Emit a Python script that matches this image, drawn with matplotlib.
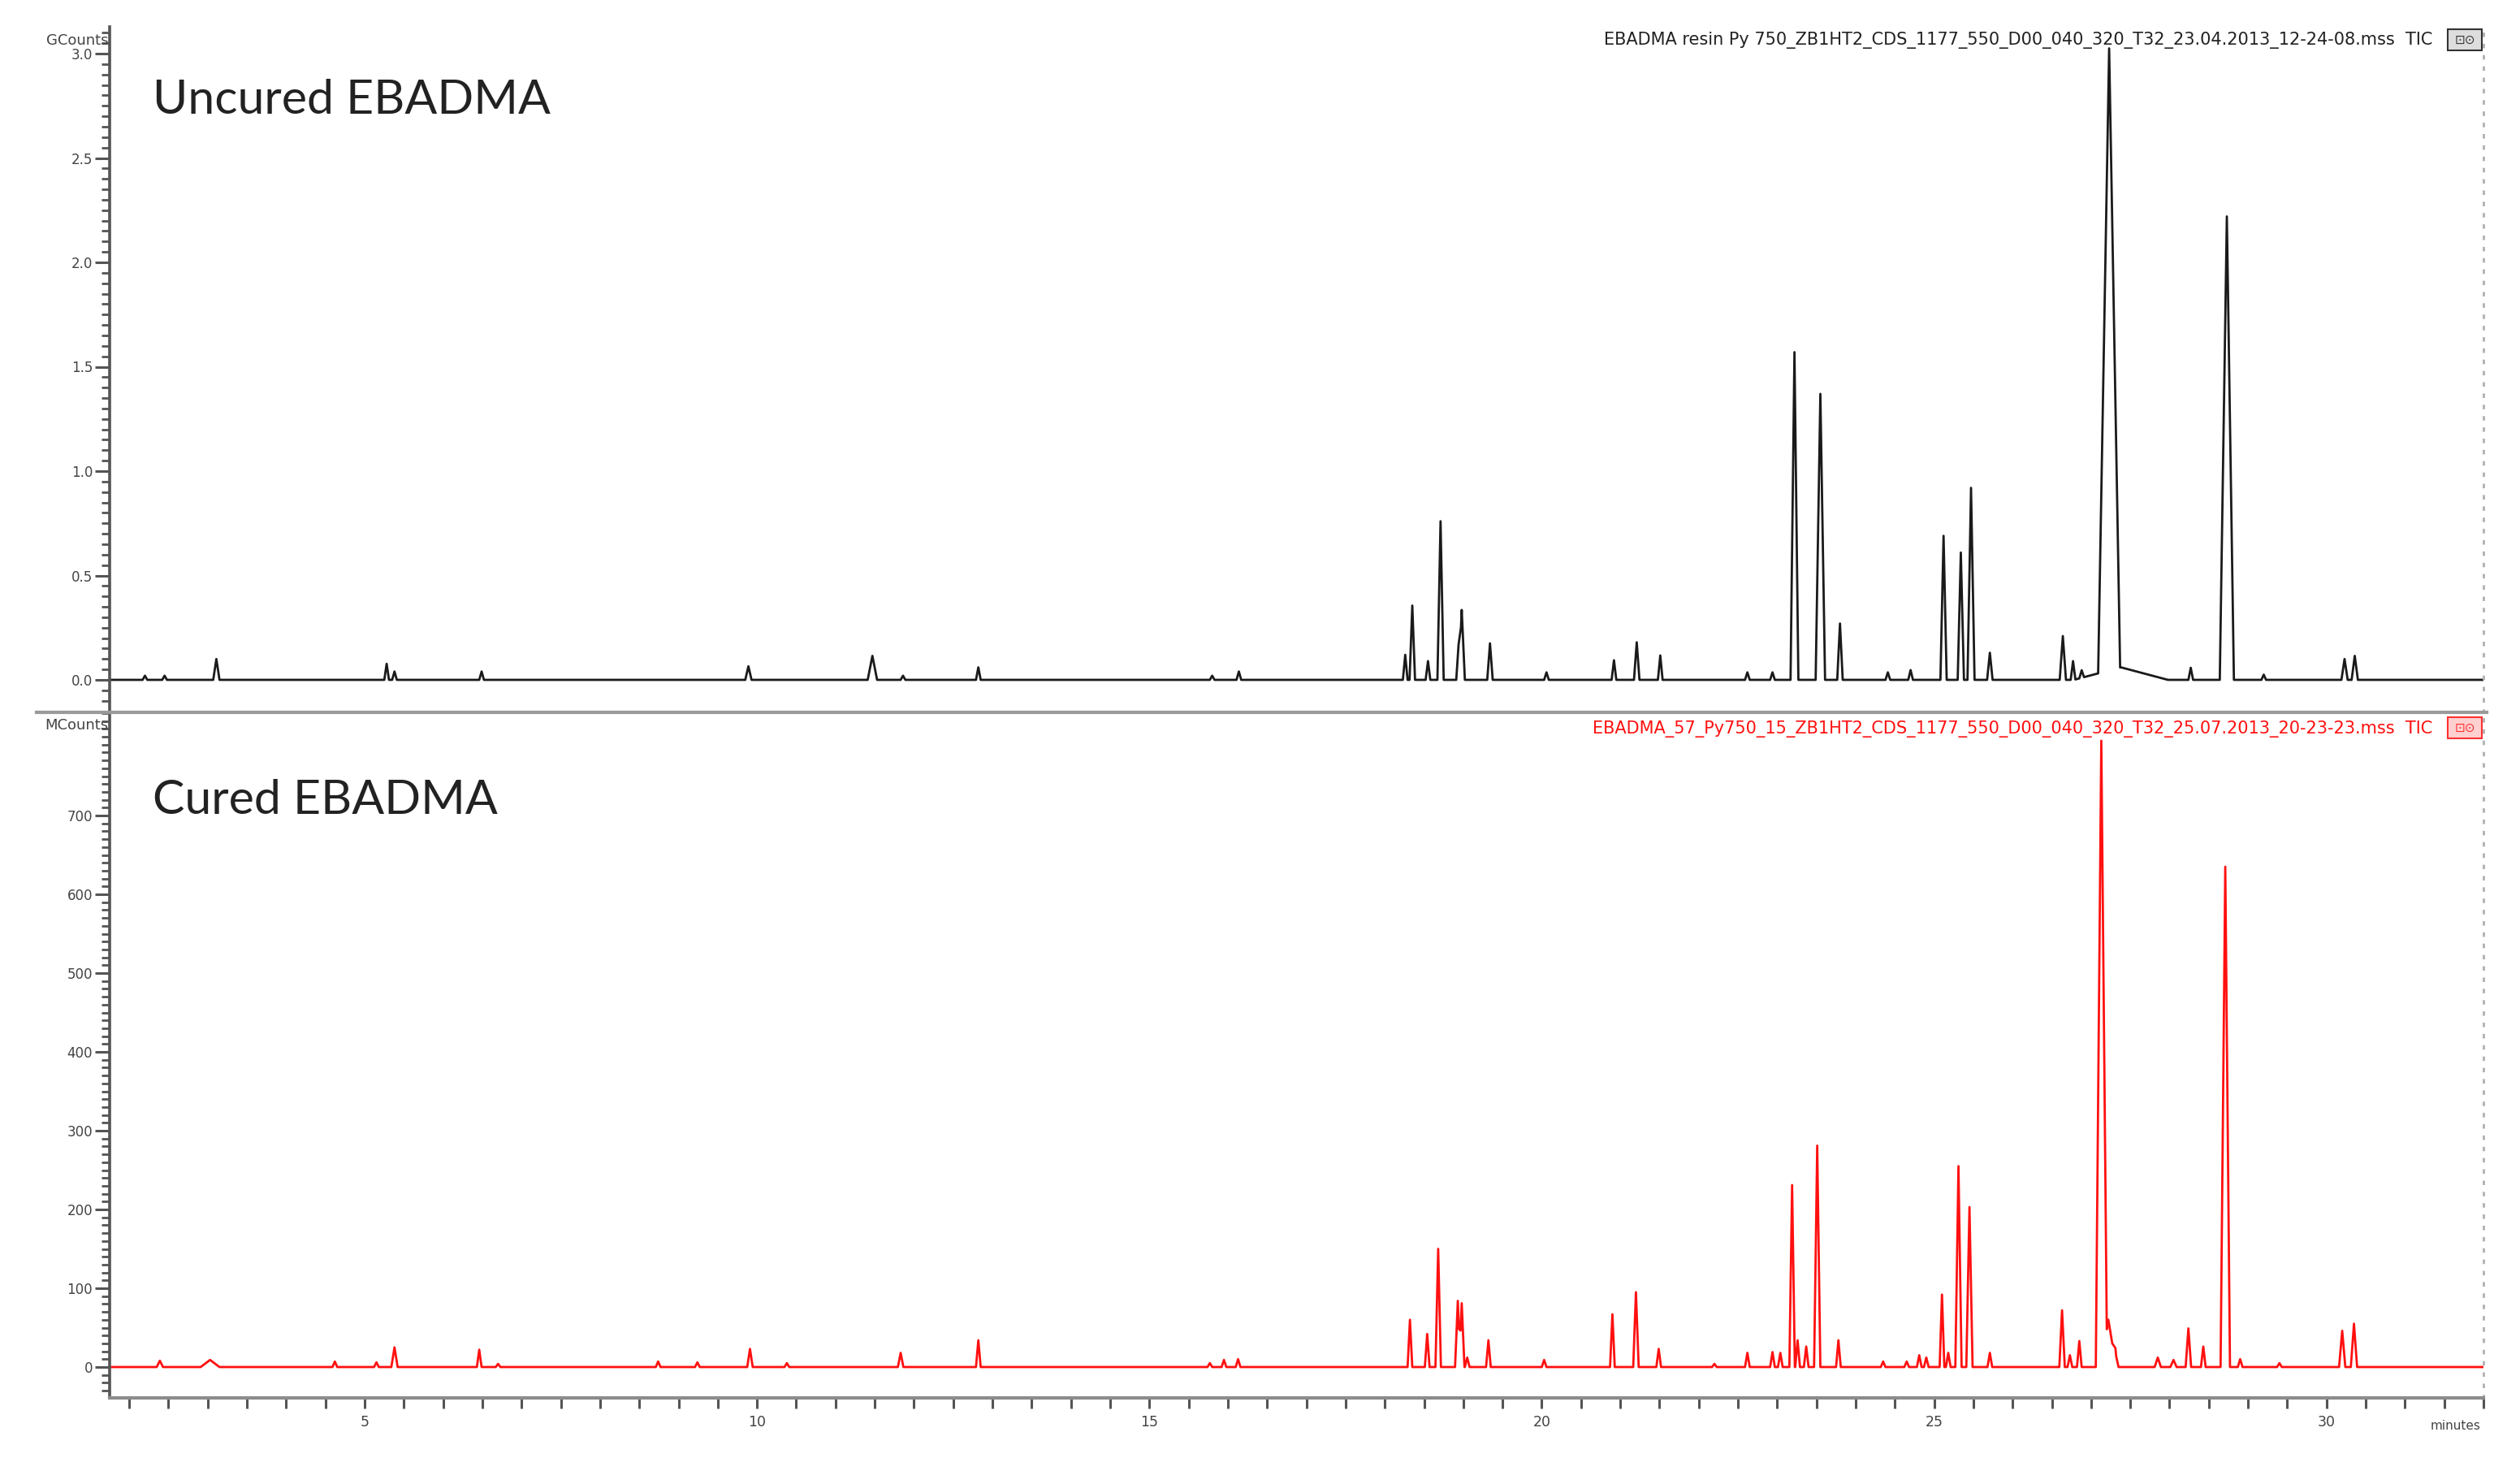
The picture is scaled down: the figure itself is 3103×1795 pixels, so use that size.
import numpy as np
import matplotlib.pyplot as plt
from matplotlib.ticker import MultipleLocator, FuncFormatter
from matplotlib.lines import Line2D
from matplotlib.patches import Rectangle

W, H = 3103, 1795
X_MIN, X_MAX = 1.75, 32.0

# uncured resin: retention time (min), height (GCounts), half base width (min)
uncured_times = [2.2, 2.45, 3.11, 5.28, 5.38, 6.49, 9.89, 11.47, 11.86, 12.82, 15.8, 16.14,
                 18.26, 18.35, 18.55, 18.71, 18.94, 18.98, 19.34, 20.06, 20.92, 21.21, 21.51,
                 22.62, 22.94, 23.22, 23.55, 23.80, 24.41, 24.70, 25.12, 25.34, 25.47, 25.71,
                 26.64, 26.77, 26.88, 27.23, 27.38, 28.27, 28.73, 29.2, 30.23, 30.36]
uncured_heights = [0.02, 0.02, 0.10, 0.077, 0.04, 0.04, 0.065, 0.115, 0.02, 0.06, 0.02, 0.04,
                   0.12, 0.356, 0.09, 0.76, 0.17, 0.335, 0.175, 0.036, 0.094, 0.18, 0.117,
                   0.036, 0.036, 1.57, 1.37, 0.27, 0.036, 0.047, 0.69, 0.61, 0.92, 0.13,
                   0.21, 0.09, 0.036, 2.98, 0.06, 0.058, 2.22, 0.025, 0.10, 0.115]
uncured_widths = [0.03, 0.03, 0.04, 0.03, 0.03, 0.03, 0.04, 0.06, 0.03, 0.03, 0.03, 0.03,
                  0.03, 0.035, 0.03, 0.04, 0.03, 0.04, 0.035, 0.03, 0.03, 0.035, 0.03,
                  0.03, 0.03, 0.05, 0.06, 0.035, 0.03, 0.03, 0.04, 0.04, 0.045, 0.035,
                  0.04, 0.03, 0.03, 0.14, 0.6, 0.03, 0.09, 0.03, 0.04, 0.04]

# cured resin: retention time (min), height (MCounts), half base width (min)
cured_times = [2.39, 3.03, 4.62, 5.15, 5.38, 6.46, 6.7, 8.74, 9.24, 9.91, 10.38, 11.83, 12.82,
               15.77, 15.95, 16.13, 18.32, 18.54, 18.68, 18.93, 18.98, 19.05, 19.32, 20.03,
               20.9, 21.2, 21.49, 22.2, 22.62, 22.94, 23.04, 23.19, 23.26, 23.37, 23.51, 23.78,
               24.35, 24.65, 24.81, 24.9, 25.1, 25.18, 25.31, 25.45, 25.71, 26.63, 26.73,
               26.85, 27.13, 27.22, 27.31, 27.85, 28.05, 28.24, 28.43, 28.71, 28.9, 29.4,
               30.2, 30.35]
cured_heights = [8, 9, 7, 6, 25, 22, 4, 7, 6, 23, 5, 18, 34,
                 5, 9, 10, 60, 42, 150, 84, 81, 12, 34, 9,
                 67, 95, 23, 4, 18, 19, 18, 231, 34, 26, 281, 34,
                 7, 7, 15, 12, 92, 18, 255, 203, 18, 72, 15,
                 33, 789, 60, 18, 12, 9, 49, 26, 635, 10, 5,
                 46, 55]
cured_widths = [0.04, 0.12, 0.03, 0.03, 0.04, 0.03, 0.03, 0.03, 0.03, 0.035, 0.03, 0.035, 0.03,
                0.03, 0.03, 0.03, 0.03, 0.03, 0.035, 0.035, 0.035, 0.03, 0.03, 0.03,
                0.03, 0.035, 0.03, 0.03, 0.03, 0.03, 0.03, 0.035, 0.03, 0.03, 0.04, 0.03,
                0.03, 0.03, 0.03, 0.03, 0.03, 0.03, 0.04, 0.04, 0.03, 0.035, 0.03,
                0.03, 0.07, 0.1, 0.04, 0.04, 0.04, 0.035, 0.03, 0.06, 0.03, 0.03,
                0.04, 0.04]

uncured_ticks = [0.0, 0.5, 1.0, 1.5, 2.0, 2.5, 3.0]
cured_ticks = [0, 100, 200, 300, 400, 500, 600, 700]

uncured_file = "EBADMA resin Py 750_ZB1HT2_CDS_1177_550_D00_040_320_T32_23.04.2013_12-24-08.mss  TIC"
cured_file = "EBADMA_57_Py750_15_ZB1HT2_CDS_1177_550_D00_040_320_T32_25.07.2013_20-23-23.mss  TIC"


def build_trace(times, heights, widths):
    xs = [X_MIN, X_MAX]
    for t, w in zip(times, widths):
        xs += [t - w, t, t + w]
    xs = np.unique(xs)
    ys = np.zeros_like(xs)
    for t, h, w in zip(times, heights, widths):
        ys += np.interp(xs, [t - w, t, t + w], [0, h, 0], left=0, right=0)
    return xs, ys


def px_axes(fig, left, top, right, bottom):
    return fig.add_axes([left / W, 1 - bottom / H, (right - left) / W, (bottom - top) / H])


def style_axes(ax):
    for side in ['top', 'bottom']:
        ax.spines[side].set_visible(False)
    ax.spines['left'].set_color('#555555')
    ax.spines['left'].set_linewidth(2.6)
    ax.spines['right'].set_color('#b0b0b0')
    ax.spines['right'].set_linewidth(2.0)
    ax.spines['right'].set_linestyle((0, (1, 4)))
    ax.tick_params(axis='y', which='major', direction='out', length=13, width=2.2,
                   color='#555555', labelsize=12, labelcolor='#444444', pad=2)
    ax.tick_params(axis='y', which='minor', direction='out', length=7, width=2.0,
                   color='#555555')
    ax.set_xlim(X_MIN, X_MAX)


fig = plt.figure(figsize=(W / 100, H / 100), dpi=100)

# top panel: uncured
ax1 = px_axes(fig, 135, 33, 3058, 877)
style_axes(ax1)
x1, y1 = build_trace(uncured_times, uncured_heights, uncured_widths)
ax1.plot(x1, y1, color='#1a1a1a', lw=2.0)
ax1.set_ylim((837 - 877) / 257, (837 - 33) / 257)
ax1.set_yticks(uncured_ticks)
ax1.set_yticklabels([f"{v:.1f}" for v in uncured_ticks])
ax1.yaxis.set_minor_locator(MultipleLocator(0.05))
ax1.set_xticks([])

# bottom panel: cured
ax2 = px_axes(fig, 135, 877, 3058, 1721)
style_axes(ax2)
ax2.spines['bottom'].set_visible(True)
ax2.spines['bottom'].set_color('#8c8c8c')
ax2.spines['bottom'].set_linewidth(3.0)
x2, y2 = build_trace(cured_times, cured_heights, cured_widths)
ax2.plot(x2, y2, color='#ff1010', lw=2.0)
ax2.set_ylim((1683 - 1721) / 0.97, (1683 - 877) / 0.97)
ax2.set_yticks(cured_ticks)
ax2.set_yticklabels([str(v) for v in cured_ticks])
ax2.yaxis.set_minor_locator(MultipleLocator(10))
ax2.xaxis.set_major_locator(MultipleLocator(0.5))
ax2.xaxis.set_major_formatter(FuncFormatter(lambda v, p: f"{v:.0f}" if abs(v % 5) < 1e-6 else ""))
ax2.tick_params(axis='x', which='major', direction='out', length=9, width=2.2,
                color='#555555', labelsize=12.5, labelcolor='#444444', pad=6)

# separator line between panels
fig.add_artist(Line2D([45 / W, 3062 / W], [1 - 877 / H, 1 - 877 / H],
                      color='#9a9a9a', lw=3.0, transform=fig.transFigure))

# unit labels
fig.text(133 / W, 1 - 50 / H, "GCounts", ha='right', va='center', fontsize=13, color='#444444')
fig.text(133 / W, 1 - 893 / H, "MCounts", ha='right', va='center', fontsize=13, color='#444444')
fig.text(3055 / W, 1 - 1755 / H, "minutes", ha='right', va='center', fontsize=11, color='#444444')

# panel titles
fig.text(188 / W, 1 - 123 / H, "Uncured EBADMA", ha='left', va='center', fontsize=42.5,
         family='Lato', color='#222222')
fig.text(188 / W, 1 - 985 / H, "Cured EBADMA", ha='left', va='center', fontsize=42.5,
         family='Lato', color='#222222')

# file headers
fig.text(2995 / W, 1 - 50 / H, uncured_file, ha='right', va='center', fontsize=15,
         color='#222222')
fig.text(2995 / W, 1 - 897 / H, cured_file, ha='right', va='center', fontsize=15,
         color='#ff1010')
for y_top, col in [(36, '#333333'), (883, '#ff3030')]:
    fig.add_artist(Rectangle((3014 / W, 1 - (y_top + 26) / H), 42 / W, 26 / H,
                             facecolor='#dddddd' if col == '#333333' else '#ffd0d0',
                             edgecolor=col, lw=1.5, transform=fig.transFigure))
    fig.text(3035 / W, 1 - (y_top + 13) / H, "⊡⊙", ha='center', va='center', fontsize=11,
             color=col)

fig.savefig("out.png", dpi=100, facecolor='white')
